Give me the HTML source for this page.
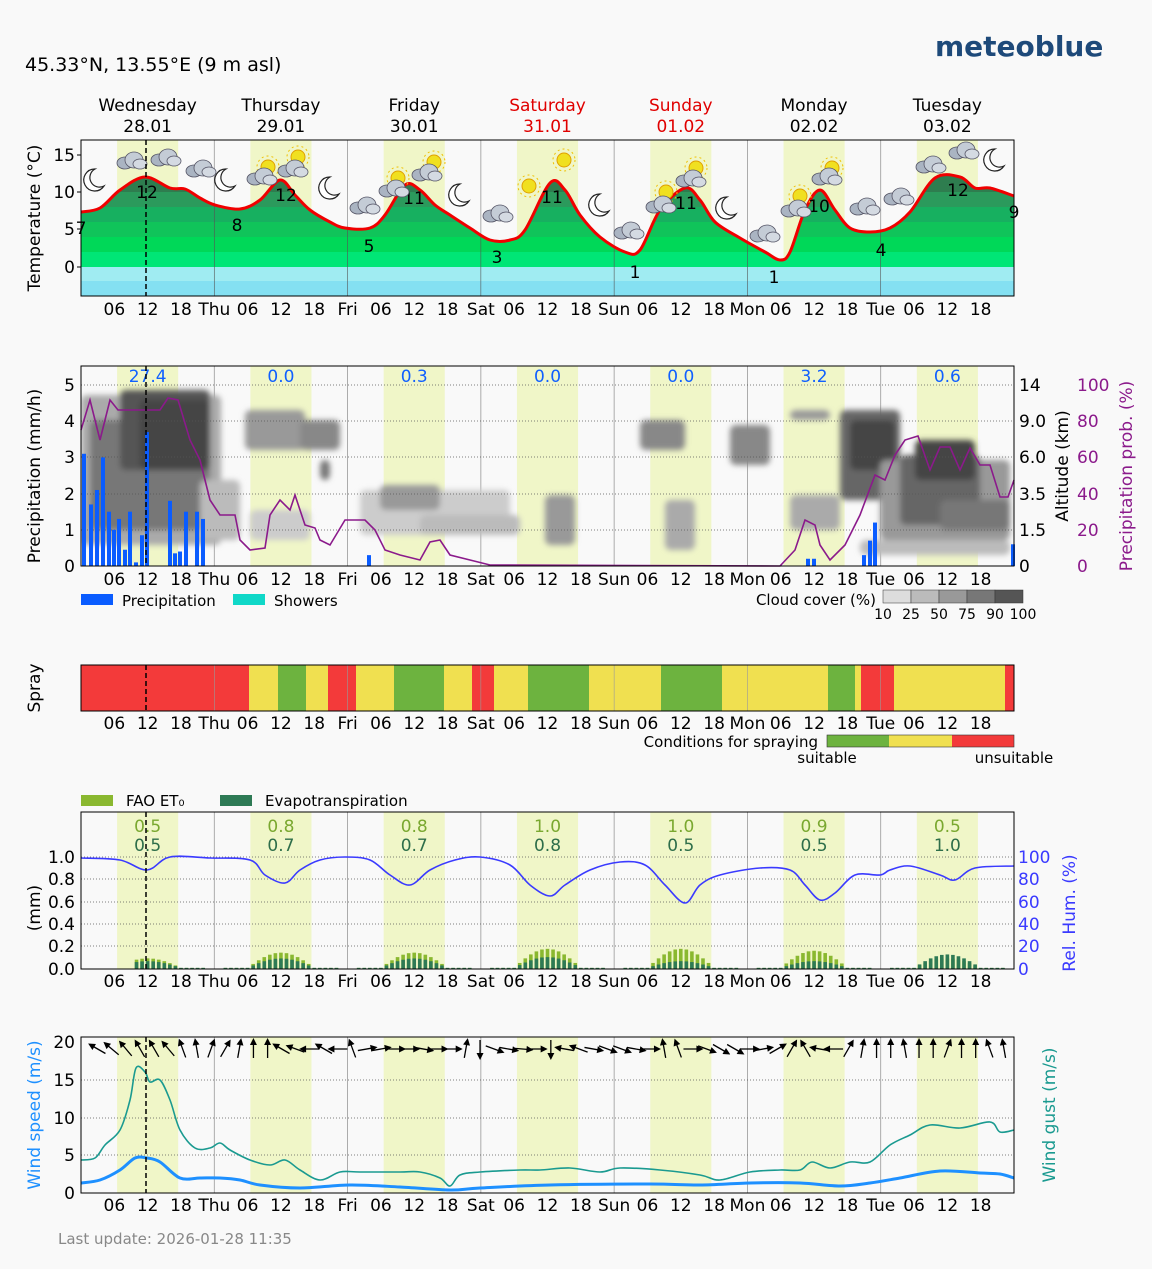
<!DOCTYPE html>
<html><head><meta charset="utf-8"><style>
html,body{margin:0;padding:0;background:#f9f9f9;}
svg{display:block;font-family:"DejaVu Sans","Liberation Sans",sans-serif;}
</style></head><body>
<svg id="s" width="1152" height="1269" viewBox="0 0 1152 1269" xmlns="http://www.w3.org/2000/svg">
<defs>
<filter id="bl" x="-20%" y="-20%" width="140%" height="140%"><feGaussianBlur stdDeviation="3"/></filter>
<clipPath id="cp2"><rect x="81" y="366" width="933" height="200"/></clipPath>
</defs>
</svg>
<script>
var S=document.getElementById('s'),o='';
function X(h){return 81+h*933/168;}
function T(x,y,t,sz,fill,anchor,extra){return '<text x="'+x+'" y="'+y+'" font-size="'+(sz||17)+'" fill="'+(fill||'#000')+'" text-anchor="'+(anchor||'middle')+'" '+(extra||'')+'>'+t+'</text>';}
function pl(a){var s='M'+a[0]+' '+a[1];for(var i=2;i<a.length;i+=2){var x0=a[i-4]!==undefined?a[i-4]:a[i-2],y0=a[i-3]!==undefined?a[i-3]:a[i-1],x1=a[i-2],y1=a[i-1],x2=a[i],y2=a[i+1],x3=a[i+2]!==undefined?a[i+2]:x2,y3=a[i+3]!==undefined?a[i+3]:y2;
s+='C'+(x1+(x2-x0)/6)+' '+(y1+(y2-y0)/6)+' '+(x2-(x3-x1)/6)+' '+(y2-(y3-y1)/6)+' '+x2+' '+y2;}return s;}
function pll(a){var s='';for(var i=0;i<a.length;i+=2)s+=(i?'L':'M')+a[i]+' '+a[i+1];return s;}
o+=T(25,71,'45.33°N, 13.55°E (9 m asl)',19,'#000','start');
o+=T(935,56,'meteoblue',28,'#1e4a7a','start','font-weight="bold"');
var days=['Wednesday','Thursday','Friday','Saturday','Sunday','Monday','Tuesday'],dates=['28.01','29.01','30.01','31.01','01.02','02.02','03.02'];
for(var d=0;d<7;d++){var c=(d==3||d==4)?'#e00000':'#000';o+=T(X(d*24+12),111,days[d],17,c);o+=T(X(d*24+12),132,dates[d],17,c);}
var ab=['Thu','Fri','Sat','Sun','Mon','Tue'];
function ticks(y){var s='';for(var d=0;d<7;d++){s+=T(X(d*24+6),y,'06');s+=T(X(d*24+12),y,'12');s+=T(X(d*24+18),y,'18');if(d<6)s+=T(X(d*24+24),y,ab[d]);}return s;}
function frame(y0,y1,shade){var s='';if(shade)for(var d=0;d<7;d++)s+='<rect x="'+X(d*24+6.5)+'" y="'+y0+'" width="'+(X(17.5)-X(6.5))+'" height="'+(y1-y0)+'" fill="#f0f6c8"/>';
for(var d=1;d<7;d++)s+='<line x1="'+X(d*24)+'" x2="'+X(d*24)+'" y1="'+y0+'" y2="'+y1+'" stroke="#999" stroke-width="0.8"/>';return s;}
function box(y0,y1){return '<rect x="81" y="'+y0+'" width="933" height="'+(y1-y0)+'" fill="none" stroke="#000" stroke-width="1"/><line x1="146" x2="146" y1="'+y0+'" y2="'+y1+'" stroke="#000" stroke-dasharray="5,3" stroke-width="1.5"/>';}
function hgrid(ys){var s='';ys.forEach(function(y){s+='<line x1="81" x2="1014" y1="'+y+'" y2="'+y+'" stroke="#555" stroke-dasharray="1,2" stroke-width="0.7"/>';});return s;}
var tp=[81,212,100,208,120,190,145,177,170,188,185,189,200,198,215,205,240,209,260,200,280,180,295,195,310,210,330,222,345,228,370,228,385,215,405,185,420,190,435,205,450,215,470,228,490,240,510,240,525,230,550,183,565,190,580,215,600,237,625,252,640,250,660,210,685,188,700,200,715,222,740,238,765,252,780,260,790,252,805,210,820,190,835,210,850,228,870,232,890,228,910,212,935,178,960,177,975,188,990,188,1014,196];
o+='<clipPath id="ct"><path d="'+pl(tp)+'L1014 296L81 296Z"/></clipPath>';
o+=frame(140,296,true);
var bands=[[140,192,'#2e7d4f'],[192,207,'#2b9a5c'],[207,222,'#17b060'],[222,237,'#10c45a'],[237,252,'#00d858'],[252,267,'#00e676'],[267,281,'#a0ecf2'],[281,296,'#84e0f2']];
o+='<g clip-path="url(#ct)">';bands.forEach(function(b){o+='<rect x="81" y="'+b[0]+'" width="933" height="'+(b[1]-b[0])+'" fill="'+b[2]+'"/>';});
for(var d=1;d<7;d++)o+='<line x1="'+X(d*24)+'" x2="'+X(d*24)+'" y1="140" y2="296" stroke="#555" stroke-width="0.6"/>';
o+='</g>';
o+='<path d="'+pl(tp)+'" fill="none" stroke="#f00000" stroke-width="3"/>';
[[81,234,'7'],[147,198,'12'],[237,231,'8'],[286,201,'12'],[369,252,'5'],[414,204,'11'],[497,263,'3'],[552,203,'11'],[635,278,'1'],[686,209,'11'],[774,283,'1'],[819,212,'10'],[881,256,'4'],[958,196,'12'],[1014,218,'9']].forEach(function(a){o+=T(a[0],a[1],a[2],17);});
function cloud(x,y){return '<g><ellipse cx="'+(x-6)+'" cy="'+(y+3)+'" rx="8" ry="6" fill="#aab4c2" stroke="#556" stroke-width="0.8"/><ellipse cx="'+(x+3)+'" cy="'+y+'" rx="9" ry="8" fill="#c4ccd6" stroke="#556" stroke-width="0.8"/><ellipse cx="'+(x+9)+'" cy="'+(y+4)+'" rx="7" ry="5" fill="#d4dae2" stroke="#556" stroke-width="0.8"/></g>';}
function sun(x,y){return '<circle cx="'+x+'" cy="'+y+'" r="7" fill="#f0e020" stroke="#e0a000"/><circle cx="'+x+'" cy="'+y+'" r="11" fill="none" stroke="#f0c000" stroke-dasharray="2,3"/>';}
function moon(x,y){return '<path d="M'+x+' '+(y-11)+'A11 11 0 1 0 '+(x+9)+' '+(y+6)+'A9 9 0 0 1 '+x+' '+(y-11)+'Z" fill="#fff" stroke="#222" stroke-width="1.2"/>';}
[[95,180,'m'],[131,160,'c'],[165,157,'c'],[200,168,'c'],[226,180,'m'],[268,167,'s'],[298,157,'s'],[261,176,'c'],[292,168,'c'],[330,188,'m'],[364,205,'c'],[398,178,'s'],[434,162,'s'],[393,188,'c'],[426,172,'c'],[460,195,'m'],[497,213,'c'],[529,186,'s'],[564,160,'s'],[600,205,'m'],[628,230,'c'],[666,192,'s'],[696,168,'s'],[660,204,'c'],[690,178,'c'],[727,208,'m'],[764,233,'c'],[800,196,'s'],[832,168,'s'],[795,208,'c'],[826,176,'c'],[864,206,'c'],[898,196,'c'],[930,164,'c'],[963,150,'c'],[995,160,'m']].forEach(function(a){o+=a[2]=='m'?moon(a[0],a[1]):a[2]=='s'?sun(a[0],a[1]):cloud(a[0],a[1]);});
o+=box(140,296);
[[155,'15'],[192,'10'],[229,'5'],[267,'0']].forEach(function(a){o+=T(75,a[0]+6,a[1],17,'#000','end');o+='<line x1="77" x2="81" y1="'+a[0]+'" y2="'+a[0]+'" stroke="#000"/>';});
o+=T(40,218,'Temperature (°C)',17,'#000','middle','transform="rotate(-90 40 218)"');
o+=ticks(315);
o+=frame(366,566,true);
o+='<g clip-path="url(#cp2)"><g filter="url(#bl)">';
[[81,395,140,150,'#aaa'],[90,420,120,110,'#777'],[120,390,90,80,'#555'],[140,400,70,70,'#444'],[200,480,40,60,'#bbb'],[245,410,60,40,'#999'],[250,510,60,30,'#ccc'],[300,420,40,30,'#888'],[320,460,10,20,'#777'],[360,490,150,45,'#ccc'],[380,485,60,25,'#999'],[420,515,100,20,'#bbb'],[545,495,30,50,'#999'],[640,420,45,30,'#888'],[665,500,30,50,'#aaa'],[730,425,40,40,'#888'],[790,410,40,10,'#999'],[790,495,50,35,'#aaa'],[840,410,60,90,'#666'],[850,420,45,50,'#444'],[880,460,130,80,'#999'],[900,455,80,70,'#666'],[915,440,60,40,'#444'],[940,500,70,30,'#777'],[860,540,150,15,'#bbb']].forEach(function(r){o+='<rect x="'+r[0]+'" y="'+r[1]+'" width="'+r[2]+'" height="'+r[3]+'" fill="'+r[4]+'" rx="6"/>';});
o+='</g></g>';
o+=hgrid([385,421,457,494,530]);
var pp=[[84,3.1],[91,1.7],[97,2.1],[103,3.0],[109,1.5],[114,1.0],[119,1.3],[125,0.45],[130,1.5],[136,0.1],[142,0.85],[147,3.7],[170,1.8],[175,0.35],[180,0.4],[186,1.5],[197,1.5],[203,1.3],[369,0.3],[808,0.2],[814,0.2],[864,0.3],[870,0.7],[875,1.2],[1013,0.6]];
pp.forEach(function(p){var h=p[1]*36.2;o+='<rect x="'+(p[0]-2)+'" y="'+(566-h)+'" width="4" height="'+h+'" fill="#0a5cff"/>';});
var pr=[81,430,90,400,100,440,110,400,118,410,160,410,168,398,178,400,190,440,200,460,210,500,220,515,235,515,240,540,250,550,265,548,270,515,280,500,290,510,295,495,305,525,315,528,320,540,330,545,345,520,365,520,375,530,385,550,400,555,420,560,430,542,440,540,450,555,470,560,490,565,780,566,795,550,805,520,815,525,820,545,830,560,845,545,860,515,875,475,885,480,895,455,905,440,918,436,930,470,940,447,950,447,960,470,970,448,980,465,990,465,1000,497,1008,497,1014,480];
o+='<path d="'+pll(pr)+'" fill="none" stroke="#8b1a8b" stroke-width="1.6"/>';
['27.4','0.0','0.3','0.0','0.0','3.2','0.6'].forEach(function(v,d){o+=T(X(d*24+12),382,v,17,'#1060ff');});
o+=box(366,566);
[[566,'0'],[530,'1'],[494,'2'],[457,'3'],[421,'4'],[385,'5']].forEach(function(a){o+=T(75,a[0]+6,a[1],17,'#000','end');});
[[566,'0'],[530,'1.5'],[494,'3.5'],[457,'6.0'],[421,'9.0'],[385,'14']].forEach(function(a){o+=T(1019,a[0]+6,a[1],17,'#000','start');});
[[566,'0'],[530,'20'],[494,'40'],[457,'60'],[421,'80'],[385,'100']].forEach(function(a){o+=T(1077,a[0]+6,a[1],17,'#8b1a8b','start');});
o+=T(40,476,'Precipitation (mm/h)',17,'#000','middle','transform="rotate(-90 40 476)"');
o+=T(1068,466,'Altitude (km)',17,'#000','middle','transform="rotate(-90 1068 466)"');
o+=T(1132,476,'Precipitation prob. (%)',17,'#8b1a8b','middle','transform="rotate(-90 1132 476)"');
o+=ticks(585);
o+='<rect x="81" y="594" width="32" height="11" fill="#0a5cff"/>'+T(122,606,'Precipitation',15,'#000','start');
o+='<rect x="233" y="594" width="32" height="11" fill="#10d8c8"/>'+T(274,606,'Showers',15,'#000','start');
o+=T(876,605,'Cloud cover (%)',15,'#000','end');
['#ddd','#bbb','#999','#777','#555'].forEach(function(c,i){o+='<rect x="'+(883+i*28)+'" y="590" width="28" height="13" fill="'+c+'" stroke="#333" stroke-width="0.5"/>';});
['10','25','50','75','90','100'].forEach(function(v,i){o+=T(883+i*28,619,v,14);});
var sp=[[81,249,'#f33a3a'],[249,278,'#f0e050'],[278,306,'#6db33f'],[306,328,'#f0e050'],[328,356,'#f33a3a'],[356,394,'#f0e050'],[394,444,'#6db33f'],[444,472,'#f0e050'],[472,494,'#f33a3a'],[494,528,'#f0e050'],[528,589,'#6db33f'],[589,661,'#f0e050'],[661,722,'#6db33f'],[722,828,'#f0e050'],[828,855,'#6db33f'],[855,861,'#f0e050'],[861,894,'#f33a3a'],[894,1005,'#f0e050'],[1005,1014,'#f33a3a']];
sp.forEach(function(s){o+='<rect x="'+s[0]+'" y="665" width="'+(s[1]-s[0])+'" height="46" fill="'+s[2]+'"/>';});
for(var d=1;d<7;d++)o+='<line x1="'+X(d*24)+'" x2="'+X(d*24)+'" y1="665" y2="711" stroke="#999" stroke-width="0.6"/>';
o+=box(665,711);
o+=T(40,688,'Spray',17,'#000','middle','transform="rotate(-90 40 688)"');
o+=ticks(729);
o+=T(818,747,'Conditions for spraying',15,'#000','end');
o+='<rect x="827" y="735" width="62" height="12" fill="#6db33f"/><rect x="889" y="735" width="63" height="12" fill="#f0e050"/><rect x="952" y="735" width="62" height="12" fill="#f33a3a"/><rect x="827" y="735" width="187" height="12" fill="none" stroke="#333" stroke-width="0.6"/>';
o+=T(827,763,'suitable',15)+T(1014,763,'unsuitable',15);
o+='<rect x="81" y="795" width="32" height="11" fill="#8ab830"/>'+T(126,806,'FAO ET₀',15,'#000','start');
o+='<rect x="220" y="795" width="32" height="11" fill="#2e7a55"/>'+T(265,806,'Evapotranspiration',15,'#000','start');
o+=frame(812,969,true);
o+=hgrid([857,879,902,924,946]);
var ev=[[0.5,0.5],[0.8,0.7],[0.8,0.7],[1.0,0.8],[1.0,0.5],[0.9,0.5],[0.5,1.0]];
for(var d=0;d<7;d++){var base=d*24;for(var h=2;h<23;h++){var a=Math.max(0,Math.sin((h-6)/12*Math.PI));var fa=(h>=6&&h<=18)?a*ev[d][0]*0.17+0.01:0.01,e=(h>=6&&h<=18)?a*ev[d][1]*0.12+0.01:0.01;if(d==0&&h<10)continue;var hx=X(base+h);o+='<rect x="'+(hx-1.8)+'" y="'+(969-fa*112)+'" width="3.6" height="'+(fa*112)+'" fill="#8ab830"/><rect x="'+(hx-1.8)+'" y="'+(969-e*112)+'" width="3.6" height="'+(e*112)+'" fill="#2e7a55"/>';}
o+=T(X(base+12),832,ev[d][0].toFixed(1),17,'#7aa830');o+=T(X(base+12),851,ev[d][1].toFixed(1),17,'#2e6e4a');}
var hu=[81,858,120,860,147,870,170,857,210,858,250,860,265,875,285,883,300,870,320,860,345,857,370,860,390,875,410,885,430,870,455,860,480,857,510,865,530,885,550,896,565,885,590,870,620,862,645,865,665,885,685,903,700,885,720,875,760,868,790,870,805,885,820,900,835,893,855,875,880,875,890,870,910,866,940,875,955,880,975,868,1014,866];
o+='<path d="'+pl(hu)+'" fill="none" stroke="#3a3aff" stroke-width="1.6"/>';
o+=box(812,969);
[[969,'0.0'],[946,'0.2'],[924,'0.4'],[902,'0.6'],[879,'0.8'],[857,'1.0']].forEach(function(a){o+=T(75,a[0]+6,a[1],17,'#000','end');});
[[969,'0'],[946,'20'],[924,'40'],[902,'60'],[879,'80'],[857,'100']].forEach(function(a){o+=T(1018,a[0]+6,a[1],17,'#3a3aff','start');});
o+=T(40,908,'(mm)',17,'#000','middle','transform="rotate(-90 40 908)"');
o+=T(1075,913,'Rel. Hum. (%)',17,'#3a3aff','middle','transform="rotate(-90 1075 913)"');
o+=ticks(987);
o+=frame(1037,1193,true);
o+=hgrid([1080,1118,1155]);
var ws=[81,1183,100,1180,120,1170,135,1158,147,1158,160,1162,180,1178,200,1178,220,1178,240,1180,260,1185,300,1188,350,1185,400,1187,450,1190,480,1188,550,1185,650,1184,700,1185,750,1183,800,1183,840,1186,870,1183,900,1178,940,1171,980,1173,1000,1174,1014,1178];
var wg=[81,1160,95,1158,105,1145,120,1130,130,1100,136,1068,145,1072,150,1082,160,1080,170,1100,180,1130,195,1148,210,1148,220,1143,230,1150,250,1160,270,1165,285,1160,300,1170,320,1180,340,1172,360,1172,400,1172,420,1172,440,1178,450,1186,460,1175,480,1172,520,1170,540,1170,570,1168,600,1172,620,1168,660,1170,700,1175,720,1180,750,1172,780,1170,800,1170,812,1162,830,1168,850,1162,870,1162,890,1145,910,1135,930,1125,960,1128,990,1122,1000,1132,1014,1130];
o+='<path d="'+pl(wg)+'" fill="none" stroke="#1a9a90" stroke-width="1.6"/>';
o+='<path d="'+pl(ws)+'" fill="none" stroke="#1e90ff" stroke-width="3"/>';
var dirs=[-60,-50,-40,-30,-30,-40,-20,-10,20,30,10,0,0,-60,-70,-90,-60,-90,-20,80,80,90,90,100,90,90,10,180,110,100,95,90,180,-80,-70,100,110,110,100,90,-10,-20,90,110,120,120,90,80,60,30,-30,-80,-90,30,10,0,0,-10,0,0,20,0,0,-20,-10];
for(var i=0;i<dirs.length;i++){var ax=X(3+i*2.55),ay=1049,r=dirs[i]*Math.PI/180,sx=Math.sin(r),cy=-Math.cos(r),dx=9*sx,dy=9*cy;var tx=ax+dx,ty=ay+dy,px=-cy,py=sx;
o+='<line x1="'+(ax-dx)+'" y1="'+(ay-dy)+'" x2="'+tx+'" y2="'+ty+'" stroke="#000" stroke-width="1.3"/><path d="M'+(tx+sx*2)+' '+(ty+cy*2)+'L'+(tx-sx*5+px*3.5)+' '+(ty-cy*5+py*3.5)+'L'+(tx-sx*5-px*3.5)+' '+(ty-cy*5-py*3.5)+'Z" fill="#000"/>';}
o+=box(1037,1193);
[[1193,'0'],[1155,'5'],[1118,'10'],[1080,'15'],[1042,'20']].forEach(function(a){o+=T(75,a[0]+6,a[1],17,'#000','end');});
o+=T(40,1115,'Wind speed (m/s)',17,'#1e90ff','middle','transform="rotate(-90 40 1115)"');
o+=T(1055,1115,'Wind gust (m/s)',17,'#1a9a90','middle','transform="rotate(-90 1055 1115)"');
o+=ticks(1211);
o+=T(58,1244,'Last update: 2026-01-28 11:35',15,'#888','start');
S.innerHTML+=o;
</script>
</body></html>
